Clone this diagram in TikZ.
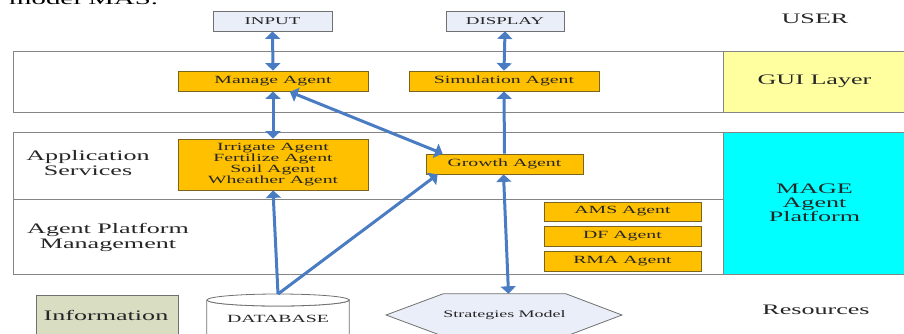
\documentclass[tikz,border=0pt]{standalone}
\usepackage{fontspec}
\setmainfont{Liberation Serif}[FakeStretch=1.8]
\usetikzlibrary{arrows.meta,calc,backgrounds}

\definecolor{agentfill}{HTML}{FFC000}
\definecolor{agentline}{HTML}{7A6420}
\definecolor{iofill}{HTML}{E9EEF8}
\definecolor{boxline}{HTML}{707070}
\definecolor{framec}{HTML}{858585}
\definecolor{guifill}{HTML}{FFFFA0}
\definecolor{magefill}{HTML}{00FFFF}
\definecolor{infofill}{HTML}{D9DEC3}
\definecolor{linkc}{HTML}{4A7CC4}
\definecolor{textc}{HTML}{262626}

\tikzset{
  agent/.style={draw=agentline, fill=agentfill, line width=0.8pt, inner sep=0pt,
    text=textc, align=center, font=\fontsize{11}{10.7}\selectfont},
  iobox/.style={draw=boxline, fill=iofill, line width=0.8pt, inner sep=0pt,
    text=textc, font=\fontsize{10.5}{12}\selectfont},
  layerbox/.style={draw=framec, line width=1pt, inner sep=0pt, text=textc,
    align=center, font=\fontsize{14.5}{14}\selectfont},
  lbl/.style={text=textc, align=center, inner sep=0pt, font=\fontsize{14.5}{15}\selectfont},
  frame/.style={draw=framec, line width=1pt},
  tip/.tip={Triangle[width=15pt,length=7.5pt]},
  link/.style={draw=linkc, line width=3pt, -tip},
  twoway/.style={draw=linkc, line width=3pt, tip-tip},
}

\begin{document}
\begin{tikzpicture}[x=1pt,y=-1pt]
\useasboundingbox (0,0) rectangle (904,333);
\clip (0,0) rectangle (904,333);

% caption fragment running above the figure
\node[anchor=base west, inner sep=0pt, text=black, font=\fontsize{16}{18}\selectfont]
  (caption) at (9,4) {model MAS.};

% layer frames
\draw[frame] (13,51) rectangle (723,112);
\draw[frame] (13,132) rectangle (723,274);
\draw[frame] (13,199) -- (723,199);

% layer names on the right
\node[layerbox, fill=guifill, minimum width=183pt, minimum height=61pt] (gui) at (814.5,81.5) {GUI Layer};
\node[layerbox, fill=magefill, minimum width=183pt, minimum height=142pt] (mage) at (814.5,203) {MAGE\\Agent\\Platform};
\node[lbl] (user) at (815,19) {USER};
\node[lbl] (res) at (816,310) {Resources};

% layer names on the left
\node[lbl] (appsvc) at (88,163.5) {Application\\Services};
\node[lbl] (apm) at (108,237.5) {Agent Platform\\Management};

% user side
\node[iobox, minimum width=119pt, minimum height=20pt] (input) at (272.5,21) {INPUT};
\node[iobox, minimum width=118pt, minimum height=20pt] (display) at (505,21) {DISPLAY};

% agents
\node[agent, minimum width=190pt, minimum height=20pt] (manage) at (273,81) {Manage Agent};
\node[agent, minimum width=190pt, minimum height=20pt] (sim) at (504,81) {Simulation Agent};
\node[agent, minimum width=190pt, minimum height=51pt] (irr) at (273,164.5)
  {Irrigate Agent\\Fertilize Agent\\Soil Agent\\Wheather Agent};
\node[agent, minimum width=157pt, minimum height=20pt] (growth) at (504.5,164) {Growth Agent};
\node[agent, minimum width=157pt, minimum height=19pt] (ams) at (622.5,211.5) {AMS Agent};
\node[agent, minimum width=157pt, minimum height=20pt] (df) at (622.5,236) {DF Agent};
\node[agent, minimum width=157pt, minimum height=20pt] (rma) at (622.5,261) {RMA Agent};

% resources
\node[draw=boxline, fill=infofill, line width=0.8pt, minimum width=142pt, minimum height=46pt,
  inner sep=0pt, anchor=north west] (info) at (36,295) {};
\node[text=textc, font=\fontsize{14.5}{15}\selectfont, inner sep=0pt] (infotext) at (106,315) {Information};

% database cylinder
\node[minimum width=142pt, minimum height=52pt, inner sep=0pt, anchor=north] (db) at (278,294) {};
\draw[draw=boxline, line width=0.8pt, fill=white]
  ($(db.north west)+(0,6)$) -- ($(db.south west)+(0,6)$) -- ($(db.south east)+(0,6)$)
  -- ($(db.north east)+(0,6)$) arc[start angle=0, end angle=-180, x radius=71pt, y radius=6pt];
\draw[draw=boxline, line width=0.8pt, fill=white] ($(db.north)+(0,6)$) ellipse[x radius=71pt, y radius=6pt];
\node[text=textc, font=\fontsize{11}{12}\selectfont, inner sep=0pt] (dbtext) at (278,319) {DATABASE};

% strategies hexagon
\node[minimum width=105pt, minimum height=42pt, inner sep=0pt, text=textc,
  font=\fontsize{10}{12}\selectfont] (strat) at (504.5,315) {Strategies Model};
\begin{scope}[on background layer]
\draw[draw=boxline, line width=0.8pt, fill=iofill]
  (strat.north west) -- (strat.north east) -- ($(strat.east)+(56,0)$) -- (strat.south east)
  -- (strat.south west) -- ($(strat.west)+(-57,0)$) -- cycle;
\end{scope}

% connectors
\draw[twoway] (input.south) -- (manage.north);
\draw[twoway] (display.south) -- (sim.north);
\draw[twoway] (manage.south) -- (irr.north);
\draw[twoway] ($(manage.south)+(17,0.5)$) -- ($(growth.north west)+(17,0)$);
\draw[link] (growth.north) -- (sim.south);
\draw[twoway] ($(growth.south)+(-1,0)$) -- ($(strat.north)+(4,0)$);
\draw[link] (db.north) -- (irr.south);
\draw[link] (db.north) -- ($(growth.south west)+(12,0)$);
\end{tikzpicture}
\end{document}
